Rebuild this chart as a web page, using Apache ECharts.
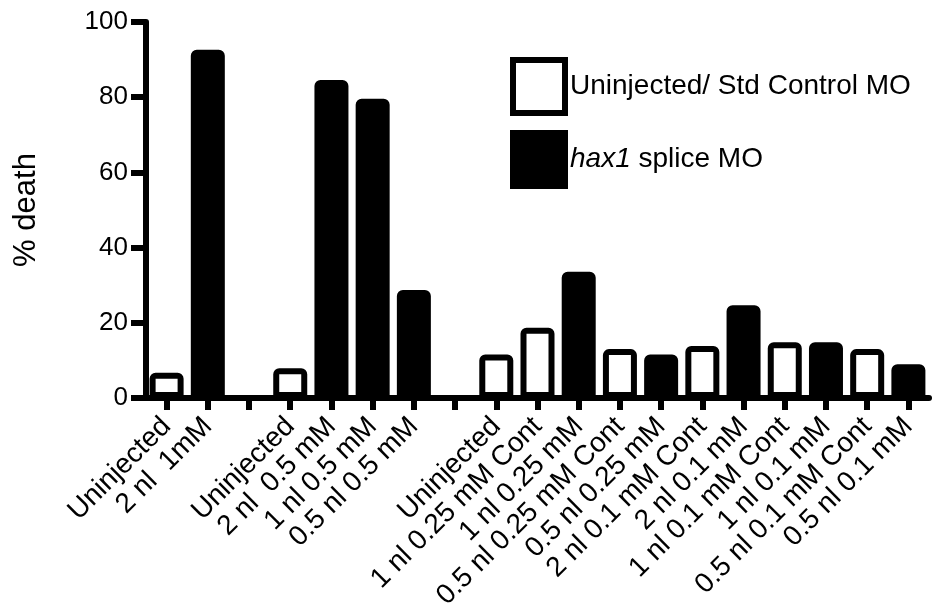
<!DOCTYPE html>
<html>
<head>
<meta charset="utf-8">
<script src="https://cdn.jsdelivr.net/npm/echarts@6/dist/echarts.min.js"></script>
<style>
html,body{margin:0;padding:0;background:#fff;}
#chart{width:941px;height:605px;}
</style>
</head>
<body>
<div id="chart"></div>
<script>
const categories = [
  'Uninjected', '2 nl  1mM', '',
  'Uninjected', '2 nl  0.5 mM', '1 nl 0.5 mM', '0.5 nl 0.5 mM', '',
  'Uninjected', '1 nl 0.25 mM Cont', '1 nl 0.25 mM', '0.5 nl 0.25 mM Cont', '0.5 nl 0.25 mM',
  '2 nl 0.1 mM Cont', '2 nl 0.1 mM', '1 nl 0.1 mM Cont', '1 nl 0.1 mM', '0.5 nl 0.1 mM Cont', '0.5 nl 0.1 mM'
];
const controlValues = [6.7, null, null, 7.9, null, null, null, null, 11.6, 18.7, null, 13.0, null, 13.8, null, 14.8, null, 13.0, null];
const hax1Values = [null, 92.6, null, null, 84.6, 79.6, 28.7, null, null, null, 33.6, null, 11.6, null, 24.7, null, 14.8, null, 9.0];
const yTicks = [0, 20, 40, 60, 80, 100];
const seriesNames = ['Uninjected/ Std Control MO', 'hax1 splice MO'];

const FONT = "'Liberation Sans', Arial, sans-serif";
const chart = echarts.init(document.getElementById('chart'), null, {renderer: 'canvas'});
chart.setOption({
  animation: false,
  backgroundColor: '#fff',
  grid: {left: 146, top: 22, width: 783, bottom: 207, containLabel: false, outerBoundsMode: 'none'},
  legend: {
    orient: 'vertical',
    left: 510,
    top: 57,
    padding: 0,
    itemWidth: 52,
    itemHeight: 53,
    itemGap: 14,
    icon: 'rect',
    selectedMode: false,
    itemStyle: {borderWidth: 6, borderColor: '#000'},
    data: [
      {name: seriesNames[0], itemStyle: {color: '#fff', borderColor: '#000', borderWidth: 6}},
      {name: seriesNames[1], itemStyle: {color: '#000', borderColor: '#000', borderWidth: 6}}
    ],
    formatter: function (name) {
      if (name === seriesNames[1]) return '{i|hax1}{n| splice MO}';
      return '{n|' + name + '}';
    },
    textStyle: {
      fontFamily: FONT, fontSize: 28, color: '#000',
      rich: {
        i: {fontFamily: FONT, fontSize: 28, fontStyle: 'italic', color: '#000'},
        n: {fontFamily: FONT, fontSize: 28, color: '#000'}
      }
    }
  },
  xAxis: {
    type: 'category',
    data: categories,
    axisLine: {lineStyle: {color: '#000', width: 6}},
    axisTick: {show: true, alignWithLabel: true, length: 12, lineStyle: {color: '#000', width: 6}},
    axisLabel: {
      interval: 0, rotate: 45, margin: 24,
      fontFamily: FONT, fontSize: 28, color: '#000'
    },
    splitLine: {show: false}
  },
  yAxis: {
    type: 'value',
    min: yTicks[0], max: yTicks[yTicks.length - 1], interval: 20,
    name: '% death',
    nameLocation: 'middle',
    nameRotate: 90,
    nameGap: 104,
    nameTextStyle: {fontFamily: FONT, fontSize: 31, color: '#000'},
    axisLine: {show: true, lineStyle: {color: '#000', width: 6}},
    axisTick: {show: true, length: 15, lineStyle: {color: '#000', width: 6}},
    axisLabel: {margin: 18, fontFamily: FONT, fontSize: 26, color: '#000'},
    splitLine: {show: false}
  },
  series: [
    {
      name: seriesNames[0], type: 'bar', data: controlValues,
      barWidth: 34, barGap: '-100%',
      itemStyle: {color: '#fff', borderColor: '#000', borderWidth: 6, borderRadius: [3, 3, 0, 0]}
    },
    {
      name: seriesNames[1], type: 'bar', data: hax1Values,
      barWidth: 34, barGap: '-100%',
      itemStyle: {color: '#000', borderColor: '#000', borderWidth: 6, borderRadius: [3, 3, 0, 0]}
    }
  ]
});
</script>
</body>
</html>
